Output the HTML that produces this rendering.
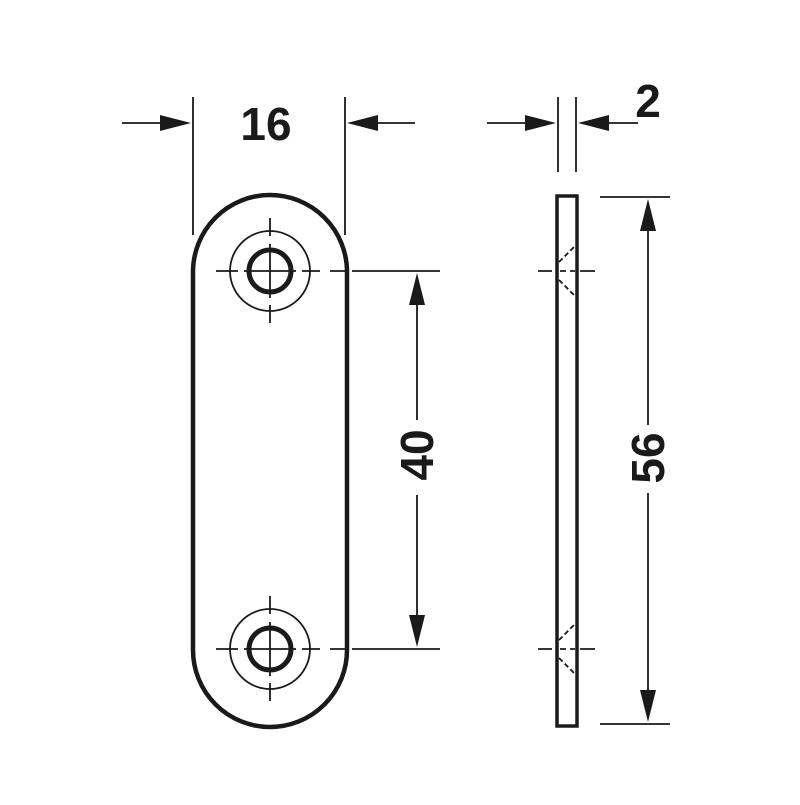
<!DOCTYPE html>
<html><head><style>html,body{margin:0;padding:0;background:#fff}</style></head>
<body>
<svg width="800" height="800" viewBox="0 0 800 800" xmlns="http://www.w3.org/2000/svg">
<g fill="none" stroke="#1a1a1a" stroke-linecap="butt">
<rect x="193" y="195" width="154" height="532" rx="77" stroke-width="4.5"/>
<g stroke-width="1.8">
<circle cx="270" cy="271" r="40"/><circle cx="270" cy="649" r="40"/>
<path d="M216 271H238M244 271H296M302 271H320M330 271H347M270 218V236M270 244V298M270 305V323"/>
<path d="M216 649H238M244 649H296M302 649H320M330 649H347M270 596V614M270 622V676M270 683V701"/>
</g>
<circle cx="270" cy="271" r="21" stroke-width="5"/>
<circle cx="270" cy="649" r="21" stroke-width="5"/>
<rect x="557" y="196" width="20" height="530" stroke-width="3.5"/>
<g stroke-width="1.8">
<path d="M538 271H552M560 271H566M570 271H575M580 271H595"/>
<path d="M538 649H552M560 649H566M570 649H575M580 649H595"/>
<path d="M559 262L577 244M559 280L577 298M559 640L577 622M559 658L577 676" stroke-dasharray="5,3"/>
<path d="M193 97V235M345 97V235M122 123H175M362 123H415"/>
<path d="M558 97V172M576 97V172M487 123H540M594 123H638"/>
<path d="M352 271H440M352 649H440M417 300V420M417 495V620"/>
<path d="M600 197H670M600 724H670M648 225V425M648 493V697"/>
</g>
</g>
<g fill="#1a1a1a">
<polygon points="191,123 160,115 160,131"/>
<polygon points="347,123 378,115 378,131"/>
<polygon points="556,123 525,115 525,131"/>
<polygon points="578,123 609,115 609,131"/>
<polygon points="417,273 409,305 425,305"/>
<polygon points="417,647 409,615 425,615"/>
<polygon points="648,199 640,231 656,231"/>
<polygon points="648,722 640,690 656,690"/>
</g>
<g font-family="Liberation Sans, sans-serif" font-weight="bold" font-size="46" fill="#1a1a1a" text-anchor="middle">
<text x="266" y="140">16</text>
<text x="648" y="117">2</text>
<text transform="translate(433,455) rotate(-90)">40</text>
<text transform="translate(664,458) rotate(-90)">56</text>
</g>
</svg>
</body></html>
